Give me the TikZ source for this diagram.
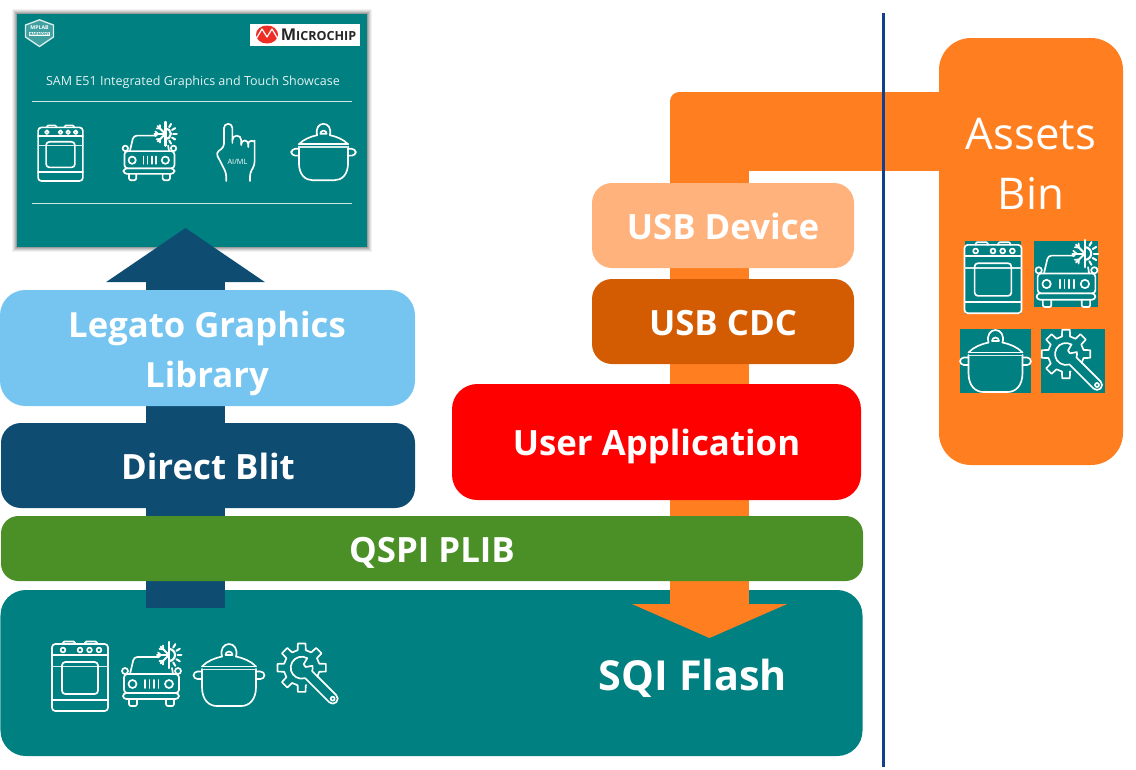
\documentclass[tikz,border=0pt]{standalone}
\usepackage{fontspec}
\setmainfont{Open Sans}
\usetikzlibrary{arrows.meta,calc}
\definecolor{tealbg}{HTML}{008080}
\definecolor{skyblue}{HTML}{75C5F0}
\definecolor{navyblit}{HTML}{0E4D71}
\definecolor{plibgreen}{HTML}{4A9026}
\definecolor{cdcorange}{HTML}{D35C03}
\definecolor{binorange}{HTML}{FF7F20}
\definecolor{usbpeach}{HTML}{FFB27B}
\definecolor{dividerblue}{HTML}{123F8E}
\definecolor{chipred}{HTML}{EE2E24}
\begin{document}
\begin{tikzpicture}[x=0.75pt,y=0.75pt,yscale=-1,
    box/.style={fill=#1,rounded corners=19pt,align=center,text=white,inner sep=0pt},
    caption/.style={font=\bfseries\fontsize{26.1}{30}\selectfont,text height=20.8pt,text depth=0pt},
    iconline/.style={draw=white,line width=1.25pt,line cap=round,line join=round},
    icon/.style={yscale=-1},
    thinline/.style={draw=white!80!tealbg,line width=0.6pt},
    flowarrow/.style={line width=59.25pt,draw=#1},
    iconbg/.style={fill=tealbg,inner sep=0pt},
    pics/ovenicon/.style={code={
        \draw[iconline,rounded corners=2.5pt] (-28,-32) rectangle (28,35);
        \draw[iconline,rounded corners=1pt] (-17,-32) -- (-17,-34.5) -- (-5,-34.5) -- (-5,-32);
        \draw[iconline,rounded corners=1pt] (5,-32) -- (5,-34.5) -- (17,-34.5) -- (17,-32);
        \foreach \knobx in {-17,0,9.5,19} {\draw[iconline] (\knobx,-26) circle (2.4);}
        \draw[iconline] (-28,-21) -- (28,-21);
        \draw[iconline,white!85!tealbg] (-28,-9.5) -- (28,-9.5);
        \draw[iconline,rounded corners=2.5pt] (-18,-14) rectangle (18,18);
        \draw[iconline] (-28,24) -- (28,24);
    }},
    pics/caricon/.style={code={
        \draw[iconline,rounded corners=2.5pt] (-27,-1) rectangle (28,18);
        \draw[iconline,rounded corners=2.5pt] (-28,18) rectangle (28,24);
        \draw[iconline,rounded corners=2.5pt] (-21,-1) -- (-17,-18) -- (8,-18);
        \draw[iconline] (21,-7) -- (22,-1);
        \draw[iconline] (-26,-4) circle (3);
        \draw[iconline] (27,-4) circle (3);
        \draw[iconline] (-18.5,9) circle (4);
        \draw[iconline] (18,9) circle (4);
        \foreach \grillx in {-6,-1.5,3,7.5} {\draw[iconline] (\grillx,5) -- (\grillx,13);}
        \draw[iconline,rounded corners=1.5pt] (-22,24) -- (-22,31) -- (-14,31) -- (-14,24);
        \draw[iconline,rounded corners=1.5pt] (15,24) -- (15,31) -- (23,31) -- (23,24);
        \fill[tealbg] (18,-20) circle (10);
        \draw[iconline,line width=1.7pt] (18,-33) -- (18,-7);
        \foreach \spoke in {135,180,225} {
            \draw[iconline,line width=1.5pt] (18,-20) -- ++(\spoke:12);
            \draw[iconline] ($(18,-20)+(\spoke:8)$) -- ++(\spoke+40:4);
            \draw[iconline] ($(18,-20)+(\spoke:8)$) -- ++(\spoke-40:4);
        }
        \draw[iconline,line width=1.6pt] (18,-26) arc[start angle=-90,end angle=90,radius=6];
        \foreach \ray in {-60,-30,0,30,60} {\draw[iconline,line width=1.5pt] ($(18,-20)+(\ray:8.5)$) -- ++(\ray:4);}
    }},
    pics/poticon/.style={code={
        \draw[iconline] (-27,-6) -- (-27,12) .. controls (-27,25) and (-20,31) .. (-12,31) -- (12,31) .. controls (20,31) and (27,25) .. (27,12) -- (27,-6);
        \draw[iconline,white!85!tealbg] (-27,-5.5) -- (27,-5.5);
        \draw[iconline] (-27,-8.5) -- (27,-8.5);
        \draw[iconline] (-27,-8.5) .. controls (-22,-14) and (-14,-17) .. (-7,-18.5);
        \draw[iconline] (27,-8.5) .. controls (22,-14) and (14,-17) .. (7,-18.5);
        \draw[iconline] (-7,-18.5) .. controls (-9,-26) and (-5,-31) .. (0,-31) .. controls (5,-31) and (9,-26) .. (7,-18.5);
        \draw[iconline] (-3.5,-20) arc[start angle=180,end angle=360,radius=3.5] -- cycle;
        \draw[iconline,rounded corners=3pt] (-27,-3.5) -- (-35.5,-3.5) -- (-35.5,4) -- (-27,4);
        \draw[iconline,rounded corners=3pt] (27,-3.5) -- (35.5,-3.5) -- (35.5,4) -- (27,4);
    }},
    pics/gearicon/.style={code={
        \begin{scope}[shift={(-7,-7)}]
        \draw[iconline] (75:18) foreach \tooth in {90,135,...,360} {-- (\tooth-13:18) -- (\tooth-9:24.5) -- (\tooth+9:24.5) -- (\tooth+13:18)} -- (30:18);
        \draw[iconline] (-60:11) arc[start angle=-60,end angle=-288,radius=11] -- (27.5,34.5) arc[start angle=135,end angle=-45,radius=5] -- (18:11) arc[start angle=18,end angle=-10,radius=11] -- (-10:4) -- (-60:4) -- cycle;
        \draw[iconline] (31,31) circle (2);
        \end{scope}
    }},
    pics/handicon/.style={code={
        \draw[iconline,rounded corners=2.5pt] (-9.3,29) -- (-9.3,21) -- (-19.5,1) -- (-11.5,-5) -- (-11.5,-24);
        \draw[iconline] (-11.5,-24) arc[start angle=180,end angle=360,radius=4.2] -- (-3.1,-9);
        \draw[iconline] (-3.1,-12) arc[start angle=180,end angle=360,radius=4.4] -- (5.7,-7);
        \draw[iconline] (5.7,-8) arc[start angle=180,end angle=360,radius=3.5] -- (12.7,-5);
        \draw[iconline,rounded corners=2.5pt] (12.7,-8) arc[start angle=180,end angle=360,radius=3.2] -- (19.1,13) -- (14.5,21) -- (14.5,29);
        \node[font=\fontsize{5.5}{6}\selectfont,text=white,inner sep=0pt] (aimllabel) at (2,9.5) {AI/ML};
    }}
]
\useasboundingbox (0,0) rectangle (1136,769);
% Showcase screen
\foreach \spread/\shade in {5/0.05,4/0.07,3/0.09,2/0.11,1/0.14} {
    \fill[black,opacity=\shade] (17-\spread,14-\spread) rectangle (367+\spread,247+\spread);
}
\node[fill=tealbg,minimum width=262.5pt,minimum height=174.75pt,inner sep=0pt] (screen) at (192,130.5) {};
\node[text=white!90!tealbg,font=\fontsize{9.4}{11}\selectfont] (title) at (193,82) {SAM E51 Integrated Graphics and Touch Showcase};
\coordinate (ruleleft) at (32,101);
\coordinate (ruleright) at (352,101);
\coordinate (lowleft) at (32,203);
\coordinate (lowright) at (352,203);
\draw[thinline] (ruleleft) -- (ruleright);
\draw[thinline] (lowleft) -- (lowright);
% MPLAB badge
\draw[fill=white!25!tealbg,draw=white!85!tealbg,line width=1pt] (25.5,25) -- (39.5,19.8) -- (53.5,25) -- (53.5,37) -- (39.5,46.5) -- (25.5,37) -- cycle;
\node[text=white,inner sep=0pt,font=\bfseries\fontsize{3.9}{4}\selectfont] (mplab) at (39.5,27.5) {MPLAB};
\node[fill=white,text=tealbg,inner sep=0.3pt,font=\bfseries\fontsize{2.8}{3}\selectfont] (harmony) at (39.5,34) {HARMONY};
% Microchip logo
\node[fill=white,minimum width=82.5pt,minimum height=16.5pt,inner sep=0pt] (logo) at (305,34.5) {};
\fill[chipred] (267,34.5) ellipse (11 and 9);
\draw[white,line width=0.9pt,line join=round] (256,39) -- (262,29) -- (267,37) -- (272,29) -- (278,39);
\node[inner sep=0pt,font=\bfseries\fontsize{12.2}{13}\selectfont,text=black!85] (chipname) at (318.5,34.5) {M\fontsize{9.4}{10}\selectfont ICROCHIP};
% Screen icons
\pic[icon,scale=0.8] (screenoven) at (60.5,153) {ovenicon};
\pic[icon,scale=0.91] (screencar) at (149,152) {caricon};
\pic[icon] (screenhand) at (235.5,152) {handicon};
\pic[icon,scale=0.91] (screenpot) at (323.5,152) {poticon};
% Flash with its stored assets
\node[box=tealbg,minimum width=646.5pt,minimum height=124.5pt] (flash) at (431.5,673) {};
\node[text=white,font=\bfseries\fontsize{31}{34}\selectfont,inner sep=0pt] (flashlabel) at (693,678) {SQI Flash};
\pic[icon] (flashoven) at (80,676) {ovenicon};
\pic[icon] (flashcar) at (151,675) {caricon};
\pic[icon] (flashpot) at (229,675) {poticon};
\pic[icon] (flashgear) at (308.7,674.7) {gearicon};
% Flow arrows
\coordinate (blittail) at (185.5,608);
\coordinate (blithead) at (185.5,228);
\draw[flowarrow=navyblit,-{Triangle[width=117pt,length=40.5pt]}] (blittail) -- (blithead);
\coordinate (usbtail) at (945,131);
\coordinate (usbbend) at (709.5,131);
\coordinate (usbhead) at (709.5,638);
\begin{scope}
\clip[rounded corners=7pt] (1000,92) -- (670,92) -- (670,600) -- (600,600) -- (600,660) -- (800,660) -- (800,300) -- (1000,300) -- cycle;
\draw[flowarrow=binorange,-{Triangle[width=115.5pt,length=25.5pt]}] (usbtail) -- (usbbend) -- (usbhead);
\end{scope}
% Software stack
\node[box=skyblue,minimum width=311.25pt,minimum height=87pt] (legato) at (207.5,348) {};
\node[text=white,align=center,inner sep=0pt,font=\bfseries\fontsize{26}{37.5}\selectfont] (legatolabel) at (207,353.5) {Legato Graphics\\Library};
\node[box=navyblit,rounded corners=15pt,minimum width=310.5pt,minimum height=63.75pt,caption] (blit) at (208,465.5) {Direct Blit};
\node[box=plibgreen,rounded corners=13pt,minimum width=646.5pt,minimum height=48.75pt,caption] (plib) at (432,548.5) {QSPI PLIB};
\node[box=red,minimum width=306.75pt,minimum height=87pt,caption] (userapp) at (656.5,442) {User Application};
\node[box=cdcorange,rounded corners=15pt,minimum width=196.5pt,minimum height=63.75pt,caption] (usbcdc) at (723,321.5) {USB CDC};
\node[box=usbpeach,rounded corners=15pt,minimum width=196.5pt,minimum height=63.75pt,caption] (usbdevice) at (723,225.5) {USB Device};
% Assets bin
\node[box=binorange,rounded corners=24pt,minimum width=138pt,minimum height=320.25pt] (assets) at (1031,251.5) {};
\node[text=white,align=center,inner sep=0pt,font=\fontsize{32.8}{45}\selectfont] (assetslabel) at (1031,164) {Assets\\Bin};
\node[iconbg,minimum width=42pt,minimum height=54.75pt] (binovenbg) at (993,277.5) {};
\node[iconbg,minimum width=48pt,minimum height=49.5pt] (bincarbg) at (1066,274) {};
\node[iconbg,minimum width=53.25pt,minimum height=48pt] (binpotbg) at (995.5,361) {};
\node[iconbg,minimum width=48pt,minimum height=48pt] (bingearbg) at (1073,361) {};
\pic[icon,scale=1.02] (binoven) at (993,277.5) {ovenicon};
\pic[icon,scale=1.05] (bincar) at (1066,274.5) {caricon};
\pic[icon] (binpot) at (995.5,361) {poticon};
\pic[icon] (bingear) at (1073,361) {gearicon};
% Divider
\coordinate (dividertop) at (883,13);
\coordinate (dividerbottom) at (883,767);
\draw[dividerblue,line width=2.25pt] (dividertop) -- (dividerbottom);
\end{tikzpicture}
\end{document}
